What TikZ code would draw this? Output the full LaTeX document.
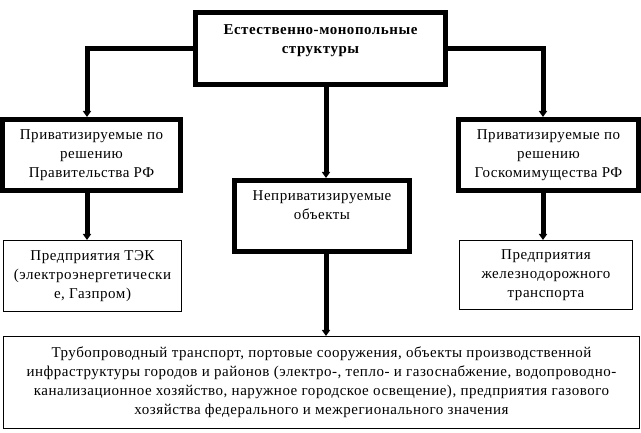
\documentclass[tikz,border=0pt]{standalone}
\usepackage{fontspec}
\setmainfont[LetterSpace=3.5]{Liberation Serif}
\usetikzlibrary{arrows.meta}
\begin{document}
\begin{tikzpicture}[x=1pt,y=-1pt,
  every node/.style={inner sep=0pt, align=center, font=\fontsize{15}{19}\selectfont},
  thickbox/.style={draw, line width=5pt, rectangle},
  thinbox/.style={draw, line width=1pt, rectangle},
  arr/.style={line width=5pt, -{Triangle[length=6pt,width=8pt]}}]
\useasboundingbox (0,0) rectangle (641,433);
\node[thickbox, minimum width=250pt, minimum height=72pt, font=\fontsize{15}{19}\selectfont\bfseries] (top) at (320.5,48.5) {Естественно-монопольные\\структуры\\[-6pt]\strut};
\node[thickbox, minimum width=178pt, minimum height=71pt] (lb) at (91.5,155) {Приватизируемые по\\решению\\Правительства РФ};
\node[thickbox, minimum width=180pt, minimum height=71pt] (rb) at (548.5,155) {Приватизируемые по\\решению\\Госкомимущества РФ};
\node[thickbox, minimum width=175pt, minimum height=71pt] (mb) at (322,216) {Неприватизируемые\\объекты\\[-3pt]\strut};
\node[thinbox, minimum width=178pt, minimum height=71pt] (llb) at (92.5,276) {Предприятия ТЭК\\(электроэнергетически\\е, Газпром)};
\node[thinbox, minimum width=173pt, minimum height=69pt] (lrb) at (546,275) {Предприятия\\железнодорожного\\транспорта};
\node[thinbox, minimum width=636pt, minimum height=92pt] (bot) at (321.5,382.5) {Трубопроводный транспорт, портовые сооружения, объекты производственной\\инфраструктуры городов и районов (электро-, тепло- и газоснабжение, водопроводно-\\канализационное хозяйство, наружное городское освещение), предприятия газового\\хозяйства федерального и межрегионального значения};
\draw[arr] (top.west) -| ([xshift=-4.5pt]lb.north);
\draw[arr] (top.east) -| ([xshift=-5.5pt]rb.north);
\draw[arr] ([xshift=5.5pt]top.south) -- ([xshift=4pt]mb.north);
\draw[arr] ([xshift=-4.5pt]lb.south) -- ([xshift=-5.5pt]llb.north);
\draw[arr] ([xshift=-5.5pt]rb.south) -- ([xshift=-3pt]lrb.north);
\draw[arr] ([xshift=4pt]mb.south) -- ([xshift=4.5pt]bot.north);
\end{tikzpicture}
\end{document}
